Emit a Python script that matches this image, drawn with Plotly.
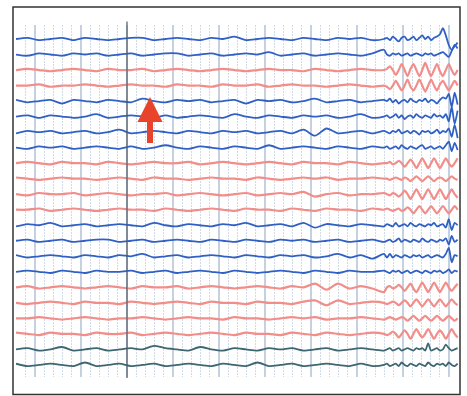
import plotly.graph_objects as go

# ---- sample times (s) ----
T_COARSE = [0, 0.25, 0.5, 0.75, 1.0, 1.25, 1.5, 1.75, 2.0, 2.25, 2.5, 2.75, 3.0, 3.25, 3.5, 3.75,
            4.0, 4.25, 4.5, 4.75, 5.0, 5.25, 5.5, 5.75, 6.0, 6.25, 6.5, 6.75, 7.0, 7.25, 7.5, 7.75, 8.0]
T_FINE = [8.064, 8.128, 8.192, 8.256, 8.32, 8.384, 8.448, 8.512, 8.576, 8.64, 8.704, 8.768, 8.832,
          8.896, 8.96, 9.024, 9.088, 9.152, 9.216, 9.28, 9.344, 9.408, 9.472, 9.536, 9.6]
TIMES = T_COARSE + T_FINE

# ---- channel deflections (arbitrary units, + = up) ----
CH01 = [0,1,-1,0,1,-1,1,0,-1,0,1,1,-1,0,1,0,-1,1,0,2,-1,0,1,0,-1,1,0,-1,1,0,1,-1,0,
        1,-1,2,0,-2,1,2,-1,0,2,-1,1,3,0,2,-1,1,2,4,9,3,-5,-9,-6,-3]
CH02 = [0,-1,1,0,-1,1,0,1,-1,0,1,-1,0,1,1,-1,0,1,-1,0,1,0,2,-1,0,1,-1,0,1,0,-1,1,4,
        0,-1,1,0,1,-1,0,1,-1,0,1,0,-1,1,0,1,-1,0,1,2,0,-2,3,8,5]
CH03 = [0,1,0,-1,0,1,0,-1,1,0,0,1,-1,0,1,0,-1,0,1,0,-1,0,1,0,0,-1,1,0,-1,0,1,0,0,
        1,3,0,-4,0,5,0,-5,1,5,0,-5,0,6,0,-5,0,5,-1,-5,0,5,0,-4,0]
CH04 = [0,0,1,-1,0,0,1,0,-1,0,1,0,0,-1,1,0,0,-1,1,0,0,1,-1,0,1,0,0,-1,0,1,0,-1,0,
        -1,-3,0,4,0,-4,0,5,-1,-4,0,5,0,-5,0,5,0,-4,1,4,0,-4,0,4,0]
CH05 = [1,-1,0,1,-2,1,0,-1,1,0,-1,2,0,-1,1,0,1,-1,0,1,-2,1,0,1,-1,0,2,-1,0,1,-1,0,1,
        0,2,-1,1,-2,0,1,-1,2,0,-1,1,0,2,-1,1,0,-2,1,3,2,6,-5,7,-3]
CH06 = [0,1,-1,1,0,-1,0,2,-1,0,1,0,-1,1,-1,0,1,0,-1,2,0,-1,1,0,-1,1,0,1,-1,0,2,-1,0,
        1,-1,0,2,-1,1,-2,0,1,-1,2,0,-1,1,0,-1,2,0,1,-1,2,-4,8,-6,5]
CH07 = [-1,1,0,1,-1,0,1,-1,0,2,-1,0,1,0,-1,1,0,-1,1,0,1,-1,0,1,-1,2,-3,3,-1,0,1,-1,1,
        0,-1,1,0,2,-1,0,1,-1,1,0,-2,1,0,1,-1,0,2,-1,1,0,3,-4,6,-5]
CH08 = [0,-1,1,0,1,-1,0,1,0,-1,1,-1,0,2,0,-1,1,0,-1,1,0,-1,2,-1,0,1,0,-1,1,0,-1,1,0,
        1,-1,0,1,-1,2,0,-1,1,0,-1,1,2,-1,0,1,-1,0,1,-1,2,5,-3,4,-2]
CH09 = [0,1,0,-1,1,0,0,-1,1,0,-1,0,1,0,0,1,-1,0,1,0,-1,0,1,0,-1,1,0,0,-1,1,0,-1,0,
        0,1,-1,0,2,0,-3,0,3,0,-4,0,4,0,-4,0,4,0,-4,0,4,0,-3,0,4]
CH10 = [1,0,-1,0,1,0,0,-1,0,1,0,-1,1,0,0,-1,0,1,0,0,-1,1,0,-1,0,1,0,1,-1,0,0,1,0,
        0,-1,0,1,0,-1,1,0,-2,0,2,0,-2,0,2,0,-2,0,1,0,-2,0,2,0,-1]
CH11 = [0,-1,1,0,0,1,-1,0,1,0,-1,0,0,1,-1,0,1,0,-1,0,1,-1,0,1,0,2,-2,0,1,-1,0,0,1,
        0,-1,1,0,-2,0,3,0,-4,0,4,0,-4,0,4,0,-4,0,4,0,-4,0,4,0,-3]
CH12 = [0,0,1,-1,0,1,0,-1,0,1,0,0,-1,1,0,-1,0,1,0,-1,1,0,0,-1,1,0,-1,1,0,0,-1,1,0,
        1,0,-1,0,1,-1,0,2,0,-3,0,3,0,-3,0,3,0,-3,0,3,0,-3,0,3,0]
CH13 = [-1,1,0,2,-1,0,1,-1,0,1,0,-1,2,0,-1,1,0,-1,1,0,2,-1,0,1,-1,2,-2,1,0,-1,1,0,-1,
        1,0,-1,2,-1,0,1,-1,2,0,-1,1,0,-1,1,0,2,-1,0,1,-2,5,-4,2,0]
CH14 = [0,1,-1,0,1,-1,0,1,1,-1,0,1,-1,0,1,0,-1,1,0,-1,1,0,-1,1,0,1,-1,0,1,-1,0,1,-1,
        0,1,-1,0,2,-1,1,0,-1,1,0,-1,2,0,-1,1,0,-1,1,0,2,-3,4,-1,1]
CH15 = [1,-1,0,1,0,-1,1,0,-1,1,0,2,-1,0,1,-1,0,1,0,-1,1,0,-1,1,0,1,-1,0,2,-1,1,-2,2,
        -1,2,-1,1,0,-1,1,0,-1,1,0,1,-1,0,1,-1,0,1,0,-1,2,7,-5,1,0]
CH16 = [0,1,0,-1,1,0,-1,1,0,0,1,-1,0,1,-1,0,1,0,-1,1,0,-1,0,1,0,-1,1,0,-1,1,0,0,1,
        0,-1,1,0,1,-1,0,1,-1,0,1,0,-1,1,0,-1,1,0,1,-1,0,2,-1,1,0]
CH17 = [0,1,-1,0,1,0,-1,0,1,0,-1,1,0,0,1,-1,0,1,0,-1,0,1,0,-1,1,0,3,-2,3,-1,1,-1,-4,
        0,1,-1,0,2,0,-3,0,3,-1,-4,0,4,0,-4,0,4,0,-4,0,4,0,-3,0,3]
CH18 = [0,-1,0,1,0,-1,1,0,0,-1,1,0,-1,0,1,0,-1,1,0,0,-1,1,0,0,-1,1,2,-2,2,-1,0,1,0,
        -1,0,1,0,-2,0,2,0,-3,0,3,0,-3,0,3,0,-3,0,3,0,-3,0,3,0,-2]
CH19 = [0,0,1,0,-1,0,1,0,-1,0,0,1,0,-1,0,1,0,0,-1,1,0,0,-1,0,1,0,1,-1,0,0,1,0,-1,
        0,1,0,-1,0,1,0,-2,0,2,0,-2,0,2,0,-2,0,2,0,-2,0,2,0,-2,0]
CH20 = [1,0,-1,1,0,0,-1,1,0,0,1,-1,0,1,0,-1,0,1,0,-1,1,0,0,-1,1,0,-1,1,0,-1,0,1,0,
        -1,0,2,0,-3,0,3,0,-4,0,4,0,-3,0,4,0,-4,0,3,0,-4,0,4,0,-3]
CH21 = [0,1,-1,0,2,-1,0,1,-1,0,1,0,3,1,0,-1,2,0,-1,1,0,-1,1,0,1,-1,0,1,-1,0,1,0,-1,
        0,1,-1,0,1,-1,0,1,0,-1,1,0,1,-1,5,-1,0,1,-1,0,4,1,-1,0,1]
CH22 = [1,-1,0,1,0,-1,2,-1,0,1,-1,0,1,-1,0,1,0,-1,1,0,-1,2,-1,0,1,-1,0,1,0,-1,1,-1,0,
        1,-1,0,1,-1,2,0,-1,1,0,-1,1,0,-1,2,0,-1,1,0,1,-1,2,0,-1,1]

CHANNELS = [CH01, CH02, CH03, CH04, CH05, CH06, CH07, CH08, CH09, CH10, CH11,
            CH12, CH13, CH14, CH15, CH16, CH17, CH18, CH19, CH20, CH21, CH22]
GROUPS = ["b", "b", "r", "r", "b", "b", "b", "b", "r", "r", "r",
          "r", "b", "b", "b", "b", "r", "r", "r", "r", "d", "d"]

# ---- styling ----
STYLE = {
    "b": dict(color="#3060c4", width=1.8, shape="spline", smoothing=0.7),
    "r": dict(color="#f28e8a", width=2.2, shape="spline", smoothing=0.7),
    "d": dict(color="#3d6672", width=1.8, shape="spline", smoothing=0.7),
}
ROW_PX = 15.52      # pixels between channel baselines
GAIN = 1.2          # pixels per unit deflection
PX_PER_S = 46.0
PLOT_L, PLOT_R, PLOT_T, PLOT_B = 16, 8, 25, 19
W, H = 467, 396
plot_w = W - PLOT_L - PLOT_R
plot_h = H - PLOT_T - PLOT_B

fig = go.Figure()
for i, (vals, g) in enumerate(zip(CHANNELS, GROUPS)):
    y = [i - v * GAIN / ROW_PX for v in vals]
    fig.add_trace(go.Scatter(x=TIMES, y=y, mode="lines", line=STYLE[g],
                             hoverinfo="skip", showlegend=False))

first_row_px = 39
y_top = -(first_row_px - PLOT_T) / ROW_PX
y_bot = (H - PLOT_B - first_row_px) / ROW_PX
grid0 = (35 - PLOT_L) / PX_PER_S
marker_t = grid0 + 2
arrow_t = (150 - PLOT_L) / PX_PER_S
arrow_y = (97 - first_row_px) / ROW_PX

fig.update_layout(
    width=W, height=H,
    margin=dict(l=PLOT_L, r=PLOT_R, t=PLOT_T, b=PLOT_B),
    paper_bgcolor="white", plot_bgcolor="white",
    xaxis=dict(range=[0, plot_w / PX_PER_S], showticklabels=False, ticks="",
               zeroline=False, showline=False,
               showgrid=True, dtick=1, tick0=grid0,
               gridcolor="rgba(150,172,198,0.55)", gridwidth=1.6,
               minor=dict(dtick=0.2, tick0=grid0, showgrid=True,
                          gridcolor="rgba(175,195,218,0.6)", gridwidth=1.3,
                          griddash="2px,1px")),
    yaxis=dict(range=[y_bot, y_top], showticklabels=False, ticks="",
               zeroline=False, showgrid=False, showline=False),
    shapes=[
        dict(type="line", xref="x", yref="paper", x0=marker_t, x1=marker_t,
             y0=-0.003, y1=1.01, line=dict(color="#4f5b66", width=1.2)),
        dict(type="rect", xref="paper", yref="paper",
             x0=(13 - PLOT_L) / plot_w, x1=(460 - PLOT_L) / plot_w,
             y0=(H - PLOT_B - 394.5) / plot_h, y1=1 + (PLOT_T - 7) / plot_h,
             line=dict(color="#333333", width=1.5)),
        dict(type="path", xref="x", yref="y", xsizemode="pixel", ysizemode="pixel",
             xanchor=arrow_t, yanchor=arrow_y,
             path="M0,0 L12.5,-25 L3,-25 L3,-46 L-3,-46 L-3,-25 L-12.5,-25 Z",
             fillcolor="#e8432b", line=dict(width=0)),
    ],
)

fig.write_html("out.html", config={"displayModeBar": False},
               post_script="document.body.style.margin='0px';")
